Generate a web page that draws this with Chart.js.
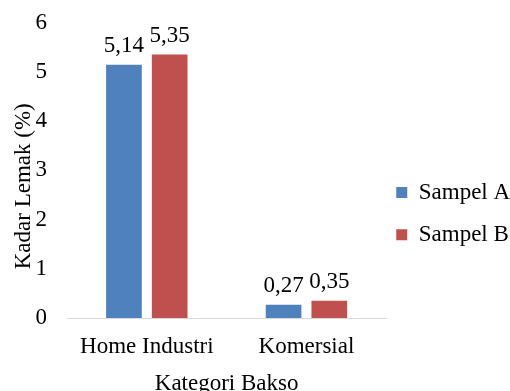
<!DOCTYPE html>
<html>
<head>
<meta charset="utf-8">
<script src="https://cdn.jsdelivr.net/npm/chart.js@4.4.0/dist/chart.umd.min.js"></script>
<style>
  html, body { margin: 0; padding: 0; background: #fff; overflow: hidden; }
  #wrap { width: 510px; height: 400px; }
</style>
</head>
<body>
<div id="wrap"><canvas id="chart" width="510" height="400"></canvas></div>
<script>
// Chart data
const categories = ['Home Industri', 'Komersial'];
const sampelA = [5.14, 0.27];
const sampelB = [5.35, 0.35];
const seriesNames = ['Sampel A', 'Sampel B'];
const yTicks = [0, 1, 2, 3, 4, 5, 6];

const FONT = "'Liberation Serif', 'Times New Roman', serif";
const SIZE = 23;

// Draw value labels above each bar (decimal comma)
const valueLabels = {
  id: 'valueLabels',
  afterLayout(chart) {
    // y title sits a little below the middle of the plot
    const y = chart.scales.y;
    y.top += 16;
    y.bottom += 16;
  },
  afterDatasetsDraw(chart) {
    const ctx = chart.ctx;
    ctx.save();
    ctx.font = SIZE + 'px ' + FONT;
    ctx.fillStyle = '#000';
    ctx.textAlign = 'center';
    ctx.textBaseline = 'alphabetic';
    chart.data.datasets.forEach((ds, di) => {
      const meta = chart.getDatasetMeta(di);
      meta.data.forEach((bar, i) => {
        const txt = ds.data[i].toFixed(2).replace('.', ',');
        ctx.fillText(txt, bar.x, bar.y - 13);
      });
    });
    ctx.restore();
  }
};

const ctx = document.getElementById('chart').getContext('2d');
new Chart(ctx, {
  type: 'bar',
  data: {
    labels: categories,
    datasets: [
      {
        label: seriesNames[0],
        data: sampelA,
        backgroundColor: '#4F81BD',
        borderWidth: 0
      },
      {
        label: seriesNames[1],
        data: sampelB,
        backgroundColor: '#C0504D',
        borderWidth: 0
      }
    ]
  },
  options: {
    responsive: false,
    animation: false,
    categoryPercentage: 0.573,
    barPercentage: 0.78,
    layout: {
      padding: { top: 22.5, left: 0, right: -5, bottom: 0 }
    },
    scales: {
      x: {
        grid: { display: false, drawTicks: false },
        border: { display: true, color: '#D9D9D9', width: 1 },
        ticks: {
          color: '#000',
          padding: 15.2,
          font: { family: FONT, size: SIZE }
        },
        title: {
          display: true,
          text: 'Kategori Bakso',
          color: '#000',
          padding: { top: -5.8, bottom: 2.2 },
          font: { family: FONT, size: SIZE }
        }
      },
      y: {
        min: yTicks[0],
        max: yTicks[yTicks.length - 1],
        grid: { display: false, drawTicks: false },
        border: { display: false },
        afterBuildTicks(scale) {
          scale.ticks = yTicks.map(v => ({ value: v }));
        },
        afterFit(scale) {
          // let layout.padding decide where the plot starts
          scale.paddingTop = 0;
          scale.paddingBottom = 0;
        },
        ticks: {
          color: '#000',
          padding: 20,
          font: { family: FONT, size: SIZE }
        },
        title: {
          display: true,
          text: 'Kadar Lemak (%)',
          color: '#000',
          padding: { top: 10.2, bottom: -22.3 },
          font: { family: FONT, size: SIZE }
        }
      }
    },
    plugins: {
      legend: {
        position: 'right',
        title: {
          display: true,
          text: '',
          padding: { top: 12.8, bottom: 0 },
          font: { size: 1 }
        },
        labels: {
          color: '#000',
          boxWidth: 11,
          boxHeight: 11,
          padding: 10,
          font: { family: FONT, size: SIZE, lineHeight: 1.4 },
          // single-line arrays so each row uses the font line height
          generateLabels(chart) {
            return Chart.defaults.plugins.legend.labels.generateLabels(chart)
              .map(item => Object.assign(item, { text: [item.text] }));
          }
        }
      },
      tooltip: { enabled: false }
    }
  },
  plugins: [valueLabels]
});
</script>
</body>
</html>
